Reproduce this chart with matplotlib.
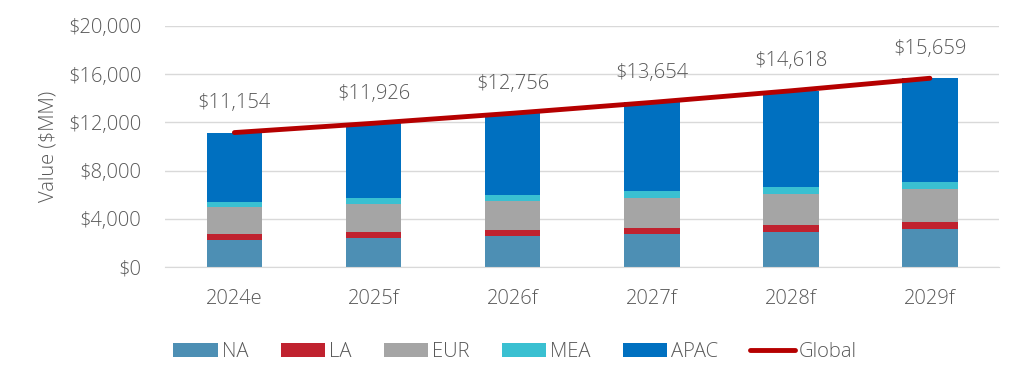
import matplotlib.pyplot as plt
from matplotlib.ticker import FuncFormatter

years = ["2024e", "2025f", "2026f", "2027f", "2028f", "2029f"]
na = [2240, 2400, 2570, 2740, 2900, 3150]
la = [500, 520, 520, 500, 580, 600]
eur = [2250, 2330, 2410, 2490, 2570, 2740]
mea = [420, 450, 480, 580, 580, 550]
glob = [11154, 11926, 12756, 13654, 14618, 15659]
apac = [g - (a + b + c + d) for g, a, b, c, d in zip(glob, na, la, eur, mea)]

series = [("NA", na, "#4D8FB4"), ("LA", la, "#C0222F"), ("EUR", eur, "#A5A5A5"),
          ("MEA", mea, "#3AC0D1"), ("APAC", apac, "#0070C0")]

plt.rcParams['font.family'] = ['Open Sans', 'DejaVu Sans']
plt.rcParams['font.weight'] = 'light'
plt.rcParams['axes.labelweight'] = 'light'
grey = "#595959"
fs = 14.5

fig = plt.figure(figsize=(10.24, 3.87), dpi=100)
ax = fig.add_axes([0.161, 0.31, 0.815, 0.623])

x = list(range(len(years)))
bottom = [0] * len(years)
handles = []
for name, vals, col in series:
    h = ax.bar(x, vals, 0.4, bottom=bottom, color=col, label=name, zorder=2)
    handles.append(h)
    bottom = [b + v for b, v in zip(bottom, vals)]

line, = ax.plot(x, glob, color="#B50000", lw=3.5, label="Global", zorder=3, solid_capstyle="round")
handles.append(line)
for xi, g in zip(x, glob):
    ax.annotate("${:,}".format(g), (xi, g), xytext=(0, 14), textcoords="offset points",
                ha="center", va="bottom", fontsize=fs, color=grey)

ax.set_xlim(-0.5, 5.5)
ax.set_ylim(0, 20000)
ax.set_yticks(range(0, 20001, 4000))
ax.yaxis.set_major_formatter(FuncFormatter(lambda v, p: "${:,.0f}".format(v)))
ax.set_xticks(x)
ax.set_xticklabels(years)
ax.tick_params(length=0, labelsize=fs, colors=grey)
ax.tick_params(axis="x", pad=16)
ax.tick_params(axis="y", pad=17)
ax.grid(axis="y", color="#D9D9D9", lw=1, zorder=0)
for s in ["top", "right", "left"]:
    ax.spines[s].set_visible(False)
ax.spines["bottom"].set_color("#D9D9D9")
ax.set_ylabel("Value ($MM)", fontsize=fs, color=grey, labelpad=7)

fig.legend(handles=handles, labels=[s[0] for s in series] + ["Global"],
           loc="center", bbox_to_anchor=(0.503, 0.09), ncol=6, frameon=False,
           fontsize=fs, labelcolor=grey, handlelength=2.2, handleheight=0.7,
           handletextpad=0.2, columnspacing=1.6)

fig.savefig("out.png", dpi=100)
